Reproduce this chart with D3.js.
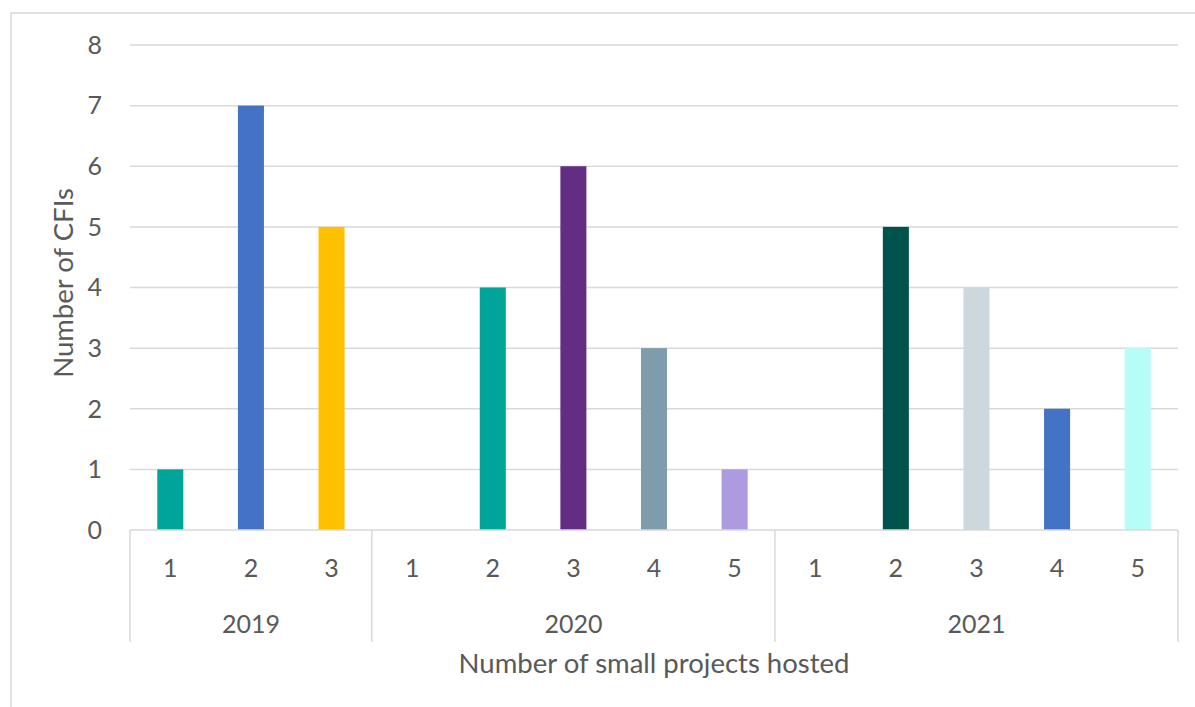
<!DOCTYPE html>
<html>
<head>
<meta charset="utf-8">
<script src="https://cdn.jsdelivr.net/npm/d3@7"></script>
<style>
  body { margin: 0; background: #fff; }
  svg text { font-family: Lato, "Open Sans", sans-serif; fill: #595959; }
</style>
</head>
<body>
<div id="chart"></div>
<script>
// chart values
const years = ['2019', '2020', '2021'];
const projects = [
    ['1', '2', '3'],
    ['1', '2', '3', '4', '5'],
    ['1', '2', '3', '4', '5']
];
const cfis = [
    [1, 7, 5],
    [0, 4, 6, 3, 1],
    [0, 5, 4, 2, 3]
];
const barColors = [
    ['#00a499', '#4472c4', '#ffc000'],
    ['#00a499', '#00a499', '#642d84', '#7f9cac', '#ae9ade'],
    ['#00524c', '#00524c', '#cdd7de', '#4472c4', '#b6fdf7']
];
const yTicks = [0, 1, 2, 3, 4, 5, 6, 7, 8];

// flat table for the band scale
let rows = [];
years.forEach((year, i) => {
    projects[i].forEach((p, j) => {
        rows.push({ key: year + '-' + p, year, project: p, value: cfis[i][j], color: barColors[i][j] });
    });
});

const width = 1195;
const height = 707;
const plot = { left: 130, right: 1178, top: 45, bottom: 530 };

const svg = d3.select('#chart')
    .append('svg')
    .attr('width', width)
    .attr('height', height);

// outer frame (only top and left edges fall inside the picture)
svg.append('path')
    .attr('d', `M11,${height + 5} L11,13 L${width + 5},13`)
    .attr('fill', 'none')
    .attr('stroke', '#d9d9d9')
    .attr('stroke-width', 1.5);

const xScale = d3.scaleBand()
    .domain(rows.map(d => d.key))
    .range([plot.left, plot.right])
    .paddingInner(0.677)
    .paddingOuter(0.3385);

const yScale = d3.scaleLinear()
    .domain([0, 8])
    .range([plot.bottom, plot.top]);

// gridlines
svg.append('g')
    .selectAll('line')
    .data(yTicks.filter(d => d > 0))
    .join('line')
    .attr('x1', plot.left)
    .attr('x2', plot.right)
    .attr('y1', d => yScale(d))
    .attr('y2', d => yScale(d))
    .attr('stroke', '#d9d9d9')
    .attr('stroke-width', 1.5);

// y tick labels
svg.append('g')
    .selectAll('text')
    .data(yTicks)
    .join('text')
    .attr('x', 102)
    .attr('y', d => yScale(d))
    .attr('dy', '0.35em')
    .attr('text-anchor', 'end')
    .style('font-size', '25px')
    .text(d => d);

// bars
svg.append('g')
    .selectAll('rect')
    .data(rows)
    .join('rect')
    .attr('x', d => xScale(d.key))
    .attr('width', xScale.bandwidth())
    .attr('y', d => yScale(d.value))
    .attr('height', d => yScale(0) - yScale(d.value))
    .attr('fill', d => d.color);

// x axis line
svg.append('line')
    .attr('x1', plot.left)
    .attr('x2', plot.right)
    .attr('y1', yScale(0))
    .attr('y2', yScale(0))
    .attr('stroke', '#d9d9d9')
    .attr('stroke-width', 1.5);

// inner category labels
svg.append('g')
    .selectAll('text')
    .data(rows)
    .join('text')
    .attr('x', d => xScale(d.key) + xScale.bandwidth() / 2)
    .attr('y', 577)
    .attr('text-anchor', 'middle')
    .style('font-size', '25px')
    .text(d => d.project);

// group separators + year labels
const step = xScale.step();
let start = 0;
let bounds = [plot.left];
let yearPos = [];
projects.forEach((p, i) => {
    const x0 = plot.left + start * step;
    const x1 = plot.left + (start + p.length) * step;
    bounds.push(x1);
    yearPos.push({ year: years[i], x: (x0 + x1) / 2 });
    start += p.length;
});

svg.append('g')
    .selectAll('line')
    .data(bounds)
    .join('line')
    .attr('x1', d => d)
    .attr('x2', d => d)
    .attr('y1', yScale(0))
    .attr('y2', 642)
    .attr('stroke', '#d9d9d9')
    .attr('stroke-width', 1.5);

svg.append('g')
    .selectAll('text')
    .data(yearPos)
    .join('text')
    .attr('x', d => d.x)
    .attr('y', 633)
    .attr('text-anchor', 'middle')
    .style('font-size', '25px')
    .text(d => d.year);

// axis titles
svg.append('text')
    .attr('x', (plot.left + plot.right) / 2)
    .attr('y', 673)
    .attr('text-anchor', 'middle')
    .style('font-size', '27.5px')
    .text('Number of small projects hosted');

svg.append('text')
    .attr('transform', 'translate(73, 283) rotate(-90)')
    .attr('text-anchor', 'middle')
    .style('font-size', '27.5px')
    .text('Number of CFIs');
</script>
</body>
</html>
